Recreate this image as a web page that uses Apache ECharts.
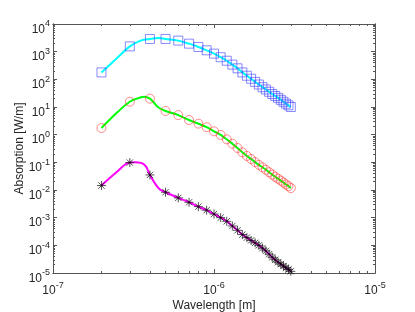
<!DOCTYPE html>
<html><head><meta charset="utf-8">
<script src="https://cdn.jsdelivr.net/npm/echarts@6/dist/echarts.min.js"></script>
<style>html,body{margin:0;padding:0;background:#fff}#c{width:415px;height:312px}</style>
</head><body><div id="c"></div>
<script>
// Marker wavelengths [m]
const wavelength = [2e-7,3e-7,4e-7,5e-7,6e-7,7e-7,8e-7,9e-7,1.0e-6,1.1e-6,1.2e-6,1.3e-6,1.4e-6,1.5e-6,1.6e-6,1.7e-6,1.8e-6,1.9e-6,2.0e-6,2.1e-6,2.2e-6,2.3e-6,2.4e-6,2.5e-6,2.6e-6,2.7e-6,2.8e-6,2.9e-6,3.0e-6];
// Series values (markers)
const blueVals  = [178,1550,2880,2880,2510,1950,1480,1120,850,630,470,340,250,178,135,105,81,65,52,43,35.5,29.5,25.1,21.4,18.2,15.5,13.2,11.5,10.0];
const redVals   = [1.74,15.5,20,7.2,5.1,3.4,2.5,1.86,1.32,0.98,0.68,0.47,0.33,0.23,0.17,0.132,0.102,0.081,0.066,0.054,0.044,0.036,0.030,0.0257,0.0219,0.0186,0.0158,0.0138,0.0117];
const blackVals = [0.0145,0.098,0.035,0.0083,0.0052,0.0036,0.0025,0.00186,0.00135,0.00100,0.00074,0.00050,0.00035,0.000245,0.00019,0.000151,0.000123,0.000100,7.9e-5,6.3e-5,4.8e-5,3.7e-5,3.0e-5,2.45e-5,2.1e-5,1.78e-5,1.55e-5,1.35e-5,1.15e-5];
// Extra curve points in the short-wavelength region
const cyanCurveX  = [2.5e-7,3.5e-7,4.5e-7];
const cyanCurveY  = [590,2510,3090];
const greenCurveX = [2.5e-7,3.4e-7,3.7e-7,4.2e-7,4.5e-7];
const greenCurveY = [6.3,21,23.5,15.1,9.8];
const magCurveX   = [2.5e-7,3.25e-7,3.7e-7,4.3e-7,4.6e-7];
const magCurveY   = [0.0457,0.100,0.081,0.0174,0.0107];
// Tick labels
const xMajor = [1e-7,1e-6,1e-5];
const yMajor = [1e-5,1e-4,1e-3,1e-2,1e-1,1e0,1e1,1e2,1e3,1e4];

function minorTicks(majors){
  const out=[];
  for(let i=0;i<majors.length-1;i++){for(let m=2;m<=9;m++){out.push(+(m*majors[i]).toPrecision(3));}}
  return out;
}
const xMinor = minorTicks(xMajor), yMinor = minorTicks(yMajor);

function curve(xs, ys, ex, ey){
  const pts = xs.map((x,i)=>[x,ys[i]]).concat(ex.map((x,i)=>[x,ey[i]]));
  pts.sort((a,b)=>a[0]-b[0]);
  return pts;
}
function pairs(xs, ys){ return xs.map((x,i)=>[x,ys[i]]); }

const FONT = 'Liberation Sans, Arial, sans-serif';
const AX = '#555';
const TXT = '#262626';
const rich = {
  b:{fontSize:12,fontFamily:FONT,color:TXT,verticalAlign:'bottom',padding:[11,0,0,0]},
  s:{fontSize:9,fontFamily:FONT,color:TXT,verticalAlign:'top',padding:[7,0,0,0]}
};
const richX = {
  b:{fontSize:12,fontFamily:FONT,color:TXT,verticalAlign:'bottom',padding:[4,0,0,0]},
  s:{fontSize:9,fontFamily:FONT,color:TXT,verticalAlign:'top',padding:[0,0,0,0]}
};
const fmt = v => '{b|10}{s|' + Math.round(Math.log10(v)) + '}';

function xAx(pos, ticks, len, labels, extra){
  return Object.assign({
    type:'log', logBase:10, min:1e-7, max:1e-5, position:pos,
    axisLine:{show:true,onZero:false,lineStyle:{color:AX,width:1}},
    axisTick:{show:true,inside:true,length:len,customValues:ticks,lineStyle:{color:AX,width:1}},
    axisLabel:{show:labels,customValues:xMajor,formatter:fmt,rich:richX,margin:8,verticalAlign:'top'},
    splitLine:{show:false}, minorTick:{show:false}
  }, extra||{});
}
function yAx(pos, ticks, len, labels, extra){
  return Object.assign({
    type:'log', logBase:10, min:1e-5, max:1e4, position:pos,
    axisLine:{show:true,onZero:false,lineStyle:{color:AX,width:1}},
    axisTick:{show:true,inside:true,length:len,customValues:ticks,lineStyle:{color:AX,width:1}},
    axisLabel:{show:labels,customValues:yMajor,formatter:fmt,rich:rich,margin:3},
    splitLine:{show:false}, minorTick:{show:false}
  }, extra||{});
}

const asterisk = 'path://M5,0 L5,10 M0,5 L10,5 M1.5,1.5 L8.5,8.5 M1.5,8.5 L8.5,1.5';

const option = {
  animation:false,
  backgroundColor:'#fff',
  grid:{left:53,right:40,top:24,bottom:39,containLabel:false,outerBoundsMode:'none'},
  xAxis:[
    xAx('bottom', xMajor, 4, true, {name:'Wavelength [m]',nameLocation:'middle',nameGap:27,nameMoveOverlap:false,nameTextStyle:{fontSize:12,fontFamily:FONT,color:TXT,verticalAlign:'top'}}),
    xAx('bottom', xMinor, 2, false),
    xAx('top', xMajor, 4, false),
    xAx('top', xMinor, 2, false)
  ],
  yAxis:[
    yAx('left', yMajor, 4, true, {name:'Absorption [W/m]',nameLocation:'middle',nameGap:27,nameMoveOverlap:false,nameTextStyle:{fontSize:12,fontFamily:FONT,color:TXT,verticalAlign:'bottom'}}),
    yAx('left', yMinor, 2, false),
    yAx('right', yMajor, 4, false),
    yAx('right', yMinor, 2, false)
  ],
  series:[
    {type:'line',data:curve(wavelength,blueVals,cyanCurveX,cyanCurveY),smooth:0.4,showSymbol:false,symbol:'none',lineStyle:{color:'#00ffff',width:2},z:2},
    {type:'line',data:curve(wavelength,redVals,greenCurveX,greenCurveY),smooth:0.4,showSymbol:false,symbol:'none',lineStyle:{color:'#00ff00',width:2},z:2},
    {type:'line',data:curve(wavelength,blackVals,magCurveX,magCurveY),smooth:0.4,showSymbol:false,symbol:'none',lineStyle:{color:'#ff00ff',width:2},z:2},
    {type:'scatter',data:pairs(wavelength,blueVals),symbol:'rect',symbolSize:9,itemStyle:{color:'rgba(0,0,0,0)',borderColor:'rgba(60,60,255,0.75)',borderWidth:1},z:3},
    {type:'scatter',data:pairs(wavelength,redVals),symbol:'circle',symbolSize:9,itemStyle:{color:'rgba(0,0,0,0)',borderColor:'rgba(255,50,50,0.7)',borderWidth:1},z:3},
    {type:'scatter',data:pairs(wavelength,blackVals),symbol:asterisk,symbolSize:9,itemStyle:{color:'rgba(0,0,0,0)',borderColor:'rgba(0,0,0,0.85)',borderWidth:1},z:3}
  ]
};
const chart = echarts.init(document.getElementById('c'), null, {renderer:'canvas'});
chart.setOption(option);
</script></body></html>
